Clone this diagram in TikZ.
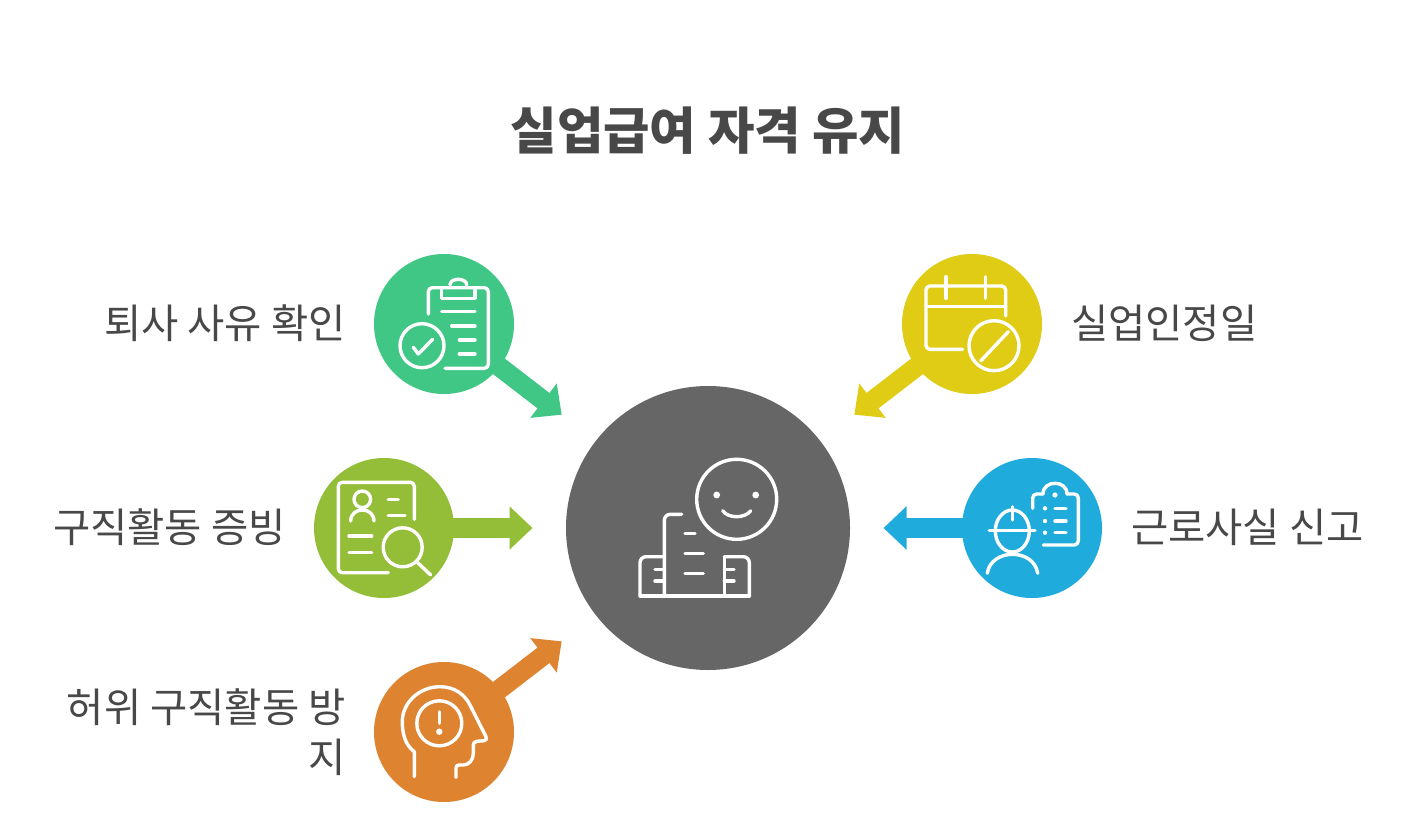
\documentclass[tikz,border=0pt]{standalone}
\usepackage{fontspec}
\setmainfont{Noto Sans CJK KR}
\usetikzlibrary{arrows.meta,backgrounds}
\definecolor{cgreen}{HTML}{40C785}
\definecolor{cyellow}{HTML}{E0CC14}
\definecolor{clime}{HTML}{94BD38}
\definecolor{cblue}{HTML}{1FABDB}
\definecolor{corange}{HTML}{DE8430}
\definecolor{cgray}{HTML}{666666}
\definecolor{ctext}{HTML}{484848}
\tikzset{
  bubble/.style={circle,inner sep=0pt,minimum size=140pt},
  hub/.style={circle,inner sep=0pt,minimum size=284pt,fill=cgray},
  link/.style={line width=19.5pt,-{Triangle[length=23pt,width=42pt]}},
  icon/.style={draw=white,line width=3.4pt,line cap=round,line join=round,fill=none},
  corner/.style={rounded corners=4pt},
  label/.style={text=ctext,font=\fontsize{40.5}{50}\selectfont,inner sep=0pt},
  heading/.style={text=ctext,font=\fontsize{50.5}{60}\selectfont\bfseries,inner sep=0pt}
}
\begin{document}
\begin{tikzpicture}[x=1pt,y=-1pt]
\begin{scope}[on background layer]
\path[use as bounding box,fill=white] (0,0) rectangle (1416,827);
\end{scope}
\node[heading] (title) at (708,131) {실업급여 자격 유지};
\node[hub] (hub) at (708,528) {};
\node[bubble,fill=cgreen] (quit) at (444,324) {};
\node[bubble,fill=cyellow] (cal) at (972,324) {};
\node[bubble,fill=clime] (job) at (384,528) {};
\node[bubble,fill=cblue] (work) at (1032,528) {};
\node[bubble,fill=corange] (fake) at (444,732) {};
\coordinate (t1) at (561.7,414.7);
\coordinate (t2) at (854.3,414.7);
\coordinate (t3) at (532.5,528);
\coordinate (t4) at (883.5,528);
\coordinate (t5) at (561.7,641.3);
\begin{scope}[on background layer]
\draw[link,cgreen] (quit.center) -- (t1);
\draw[link,cyellow] (cal.center) -- (t2);
\draw[link,clime] (job.center) -- (t3);
\draw[link,cblue] (work.center) -- (t4);
\draw[link,corange] (fake.center) -- (t5);
\end{scope}
\node[label,anchor=east] (lquit) at (346,323) {퇴사 사유 확인};
\node[label,anchor=west] (lcal) at (1071,323) {실업인정일};
\node[label,anchor=east] (ljob) at (286,527) {구직활동 증빙};
\node[label,anchor=west] (lwork) at (1131,527) {근로사실 신고};
\node[label,anchor=east,align=right] (lfake) at (346,732) {허위 구직활동 방\\지};
% clipboard with check
\draw[icon,corner] (428.3,314) -- (428.3,287.7) -- (488.3,287.7) -- (488.3,368.3) -- (445,368.3);
\draw[icon] (441.7,287.7) rectangle (475,298.3);
\draw[icon] (450,285) .. controls (450,277.4) and (466.7,277.4) .. (466.7,285);
\draw[icon] (441.7,311.7) -- (475,311.7) (451.7,326) -- (475,326) (459.3,340) -- (475,340) (459.3,354) -- (475,354);
\draw[icon] (422,345.7) circle[radius=22];
\draw[icon] (413.3,347.3) -- (418.3,354) -- (432.7,339.3);
% calendar
\draw[icon,corner] (1005.7,316) -- (1005.7,286) -- (926,286) -- (926,349.3) -- (962.7,349.3);
\draw[icon] (926,306.7) -- (1005.7,306.7) (946,276.7) -- (946,298.3) (985.7,276.7) -- (985.7,298.3);
\draw[icon] (994,345.7) circle[radius=25];
\draw[icon] (980.7,361) -- (1008.3,331.7);
% document with magnifier
\draw[icon,corner] (414.3,519.3) -- (414.3,482.3) -- (338.3,482.3) -- (338.3,572.7) -- (388.3,572.7);
\draw[icon] (362.3,499.3) circle[radius=8.3];
\draw[icon] (350.7,521) .. controls (350.7,506.3) and (374,506.3) .. (374,521);
\draw[icon] (388.3,499.3) -- (398.3,499.3) (388.3,515.7) -- (405,515.7) (349,536) -- (371.7,536) (349,552.3) -- (371.7,552.3);
\draw[icon] (402.7,547.3) circle[radius=19.5];
\draw[icon] (417.3,562.3) -- (430.7,575);
% worker with list
\draw[icon,corner] (1032.7,508.3) -- (1032.7,494) -- (1043,494);
\draw[icon] (1043,494) .. controls (1043,479.7) and (1067,479.7) .. (1067,494);
\draw[icon,corner] (1067,494) -- (1078.3,494) -- (1078.3,545) -- (1043.3,545);
\fill[white] (1055,495) circle[radius=2.6] (1045,508.3) circle[radius=2.2] (1045,521) circle[radius=2.2] (1045,532.7) circle[radius=2.2];
\draw[icon] (1055,508.3) -- (1066,508.3) (1055,521) -- (1066,521) (1055,532.7) -- (1066,532.7);
\draw[icon] (1012.3,531) ellipse[x radius=17,y radius=21];
\draw[icon] (989.3,530.7) -- (1035,530.7) (1012.3,506.7) -- (1012.3,520);
\draw[icon] (987.3,573.3) .. controls (991,548) and (1034,548) .. (1037.7,573.3);
% head with exclamation
\draw[icon] (414.3,776.7) -- (414.3,751.7) .. controls (405,745) and (402.3,733) .. (402.3,721.7) .. controls (402.3,702) and (420,686.7) .. (440,686.7) .. controls (455,686.7) and (465,695) .. (470,705) -- (486,736.7) .. controls (487,739) and (486,740.7) .. (484,740.7) -- (477,741.3) .. controls (474.5,741.5) and (473.3,743) .. (473.3,745) -- (473.3,753.3) .. controls (473.3,760) and (469,765) .. (463.3,765) -- (459,765) .. controls (457,765) and (456,766) .. (456,768) -- (456,777.3);
\draw[icon] (439.3,723.3) circle[radius=22.5];
\draw[icon] (439.3,711.7) -- (439.3,723.3);
\fill[white] (439.3,731.7) circle[radius=3.2];
% smile and buildings
\draw[icon] (736.7,499.3) circle[radius=40];
\fill[white] (716.7,495) circle[radius=3.4] (755.7,495) circle[radius=3.4];
\draw[icon] (722.7,510.7) .. controls (728,518.7) and (745,518.7) .. (750.7,510.7);
\draw[icon,rounded corners=6pt] (681.7,514.3) -- (664.3,514.3) -- (664.3,596);
\draw[icon,rounded corners=6pt] (664.3,556.7) -- (640,556.7) -- (640,596);
\draw[icon] (640,596) -- (749.3,596);
\draw[icon,rounded corners=6pt] (749.3,596) -- (749.3,556.7) -- (724.3,556.7);
\draw[icon] (724.3,556.7) -- (724.3,596);
\draw[icon] (685,533.3) -- (695,533.3) (685,553.3) -- (703.3,553.3) (685,573.3) -- (703.3,573.3);
\draw[icon] (655,569.3) -- (664.3,569.3) (655,581) -- (664.3,581) (724.3,569.3) -- (734,569.3) (724.3,581) -- (734,581);
\end{tikzpicture}
\end{document}
